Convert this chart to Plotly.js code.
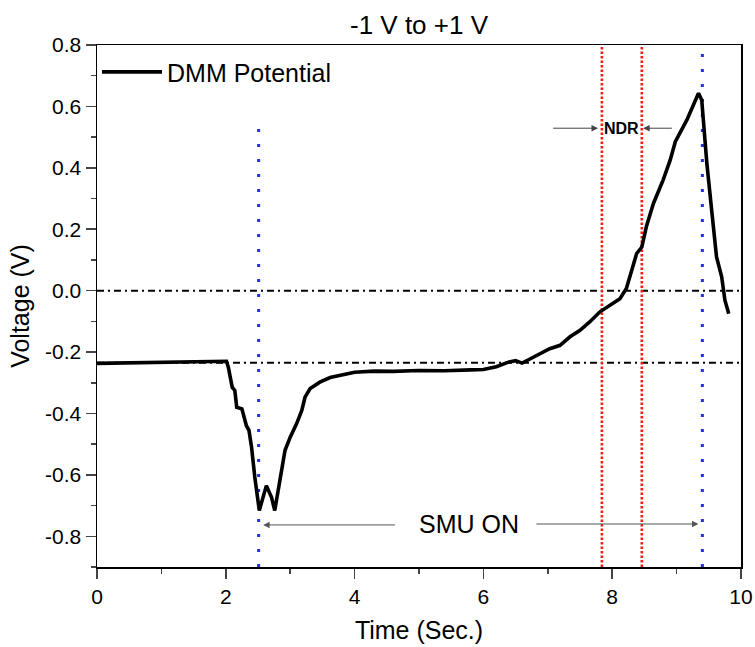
<!DOCTYPE html>
<html>
<head>
<meta charset="utf-8">
<script src="https://cdn.plot.ly/plotly-3.0.1.min.js"></script>
<style>html,body{margin:0;padding:0;background:#fff;}#chart{width:755px;height:647px;}</style>
</head>
<body>
<div id="chart"></div>
<script>
// Time (s) and DMM potential (V)
const timeSec = [0, 0.3, 0.6, 1.0, 1.4, 1.8, 2.01, 2.04, 2.07, 2.10, 2.14, 2.17, 2.25, 2.27, 2.32, 2.36, 2.40, 2.45, 2.49, 2.52, 2.63, 2.71, 2.76, 2.84, 2.92, 3.00, 3.10, 3.18, 3.23, 3.31, 3.46, 3.62, 3.77, 4.0, 4.3, 4.6, 5.0, 5.4, 5.8, 6.0, 6.2, 6.4, 6.5, 6.6, 6.7, 6.8, 7.03, 7.19, 7.34, 7.50, 7.65, 7.81, 7.97, 8.12, 8.22, 8.30, 8.38, 8.46, 8.53, 8.64, 8.79, 8.90, 8.98, 9.16, 9.34, 9.39, 9.47, 9.55, 9.62, 9.70, 9.75, 9.81];
const dmmPotential = [-0.237, -0.236, -0.235, -0.233, -0.232, -0.231, -0.230, -0.250, -0.280, -0.315, -0.325, -0.380, -0.385, -0.400, -0.440, -0.455, -0.510, -0.607, -0.662, -0.716, -0.635, -0.673, -0.716, -0.618, -0.520, -0.477, -0.433, -0.390, -0.347, -0.319, -0.298, -0.283, -0.276, -0.266, -0.262, -0.263, -0.260, -0.261, -0.258, -0.257, -0.248, -0.232, -0.228, -0.236, -0.225, -0.215, -0.189, -0.178, -0.151, -0.129, -0.102, -0.069, -0.048, -0.026, 0.007, 0.066, 0.121, 0.142, 0.208, 0.284, 0.360, 0.425, 0.485, 0.556, 0.643, 0.621, 0.414, 0.251, 0.110, 0.045, -0.031, -0.075];

// Reference lines
const hLineY = [0, -0.235];
const blueLineX = [2.51, 9.40];
const blueLineTop = [0.53, 0.8];
const redLineX = [7.84, 8.46];

// Axis ticks
const xTicks = [0, 2, 4, 6, 8, 10];
const yTicks = [-0.8, -0.6, -0.4, -0.2, 0.0, 0.2, 0.4, 0.6, 0.8];

const traces = [];
hLineY.forEach(v => traces.push({x: [0, 10], y: [v, v], mode: 'lines', showlegend: false, hoverinfo: 'skip',
  line: {color: '#000', width: 2, dash: '7px,4px,2px,4px'}}));
blueLineX.forEach((v, i) => traces.push({x: [v, v], y: [-0.9, blueLineTop[i]], mode: 'lines', showlegend: false, hoverinfo: 'skip',
  line: {color: '#1f35d6', width: 3, dash: '3px,12px'}}));
redLineX.forEach(v => traces.push({x: [v, v], y: [-0.9, 0.8], mode: 'lines', showlegend: false, hoverinfo: 'skip',
  line: {color: '#ff1a1a', width: 2.6, dash: '2.5px,2px'}}));
traces.push({x: timeSec, y: dmmPotential, mode: 'lines', name: 'DMM Potential',
  line: {color: '#000', width: 3.6}});

const font = 'Liberation Sans, Arial, sans-serif';
const layout = {
  width: 755, height: 647,
  margin: {l: 97, r: 14, t: 45, b: 80},
  paper_bgcolor: '#fff', plot_bgcolor: '#fff',
  font: {family: font, color: '#000', size: 21},
  title: {text: '-1 V to +1 V', x: 0.5, xref: 'paper', y: 0.962, yref: 'container', yanchor: 'middle', font: {size: 26, family: font}},
  xaxis: {range: [0, 10], tickvals: xTicks, ticktext: xTicks.map(String), ticks: 'outside', ticklen: 10, tickwidth: 1.5,
    showline: true, mirror: true, linewidth: 1.5, linecolor: '#000', showgrid: false, zeroline: false,
    minor: {dtick: 1, tick0: 0, ticks: 'outside', ticklen: 5, tickwidth: 1.5, showgrid: false},
    title: {text: 'Time (Sec.)', font: {size: 25}, standoff: 15}, tickfont: {size: 21}},
  yaxis: {range: [-0.9, 0.8], tickvals: yTicks, ticktext: yTicks.map(v => v.toFixed(1)), ticks: 'outside', ticklen: 10, tickwidth: 1.5,
    showline: true, mirror: true, linewidth: 1.5, linecolor: '#000', showgrid: false, zeroline: false,
    minor: {dtick: 0.1, tick0: 0, ticks: 'outside', ticklen: 5, tickwidth: 1.5, showgrid: false},
    title: {text: 'Voltage (V)', font: {size: 25}, standoff: 8}, tickfont: {size: 21}},
  showlegend: true,
  legend: {x: 0.0, y: 0.948, yanchor: 'middle', xanchor: 'left', bgcolor: 'rgba(0,0,0,0)', itemwidth: 60, font: {size: 25}},
  annotations: [
    {x: 8.15, y: 0.529, text: '<b>NDR</b>', showarrow: false, font: {size: 16}},
    {x: 7.78, y: 0.529, ax: 7.06, ay: 0.529, axref: 'x', ayref: 'y', text: '', showarrow: true, arrowhead: 2, arrowsize: 1.3, arrowwidth: 1, arrowcolor: '#444'},
    {x: 8.48, y: 0.529, ax: 8.95, ay: 0.529, axref: 'x', ayref: 'y', text: '', showarrow: true, arrowhead: 2, arrowsize: 1.3, arrowwidth: 1, arrowcolor: '#444'},
    {x: 5.78, y: -0.76, text: 'SMU ON', showarrow: false, font: {size: 25}},
    {x: 2.58, y: -0.763, ax: 4.65, ay: -0.763, axref: 'x', ayref: 'y', text: '', showarrow: true, arrowhead: 2, arrowsize: 1.3, arrowwidth: 1, arrowcolor: '#555'},
    {x: 9.34, y: -0.76, ax: 6.80, ay: -0.76, axref: 'x', ayref: 'y', text: '', showarrow: true, arrowhead: 2, arrowsize: 1.3, arrowwidth: 1, arrowcolor: '#555'}
  ]
};
Plotly.newPlot('chart', traces, layout, {staticPlot: true, displayModeBar: false});
</script>
</body>
</html>
